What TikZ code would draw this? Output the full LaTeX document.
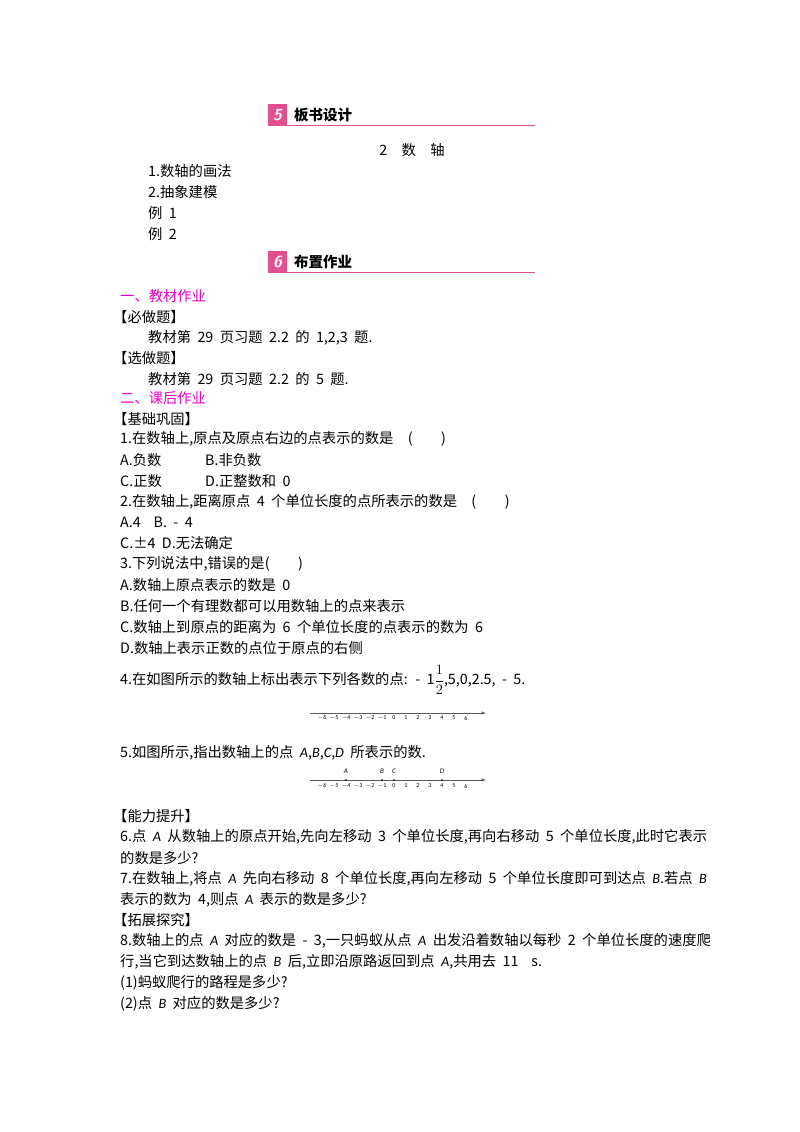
\documentclass[tikz,border=0pt]{standalone}
\usepackage{amsmath}
\usepackage{fontspec}
\setmainfont{Carlito}
\newfontfamily\cjk[WordSpace=2]{Noto Sans CJK SC}
\newcommand\ia[1]{{\normalfont\itshape #1}}
\definecolor{hpink}{RGB}{225,80,140}
\definecolor{mag}{RGB}{230,0,200}
\begin{document}
\begin{tikzpicture}[x=1pt,y=-1pt,
  t/.style={anchor=west,inner sep=0pt,font=\cjk\fontsize{14.3}{15}\selectfont},
  tiny/.style={inner sep=0pt,font=\fontsize{6}{6}\selectfont},
  hd/.style={anchor=west,inner sep=0pt,font=\cjk\bfseries\fontsize{14.5}{16}\selectfont}]
\useasboundingbox (0,0) rectangle (800,1132);
% header 5
\fill[hpink] (268,104) rectangle (287,126);
\node[inner sep=0pt,text=white,font=\sffamily\bfseries\itshape\fontsize{16}{16}\selectfont] (n5) at (277.5,115) {5};
\draw[hpink,line width=1pt] (268,125.5) -- (535,125.5);
\node[hd] (h5) at (294,115) {板书设计};
\node[t,anchor=center] (title) at (412,150) {2\quad 数\quad 轴};
\node[t] (l1) at (148,171) {1.数轴的画法};
\node[t] (l2) at (148,192) {2.抽象建模};
\node[t] (l3) at (148,213) {例 1};
\node[t] (l4) at (148,234) {例 2};
% header 6
\fill[hpink] (268,251) rectangle (287,273);
\node[inner sep=0pt,text=white,font=\sffamily\bfseries\itshape\fontsize{16}{16}\selectfont] (n6) at (277.5,262) {6};
\draw[hpink,line width=1pt] (268,272) -- (535,272);
\node[hd] (h6) at (294,262) {布置作业};
\node[t,text=mag] (s1) at (120,296) {一、教材作业};
\node[t] (a1) at (113,317) {【必做题】};
\node[t] (a2) at (148,338) {教材第 29 页习题 2.2 的 1,2,3 题.};
\node[t] (a3) at (113,358) {【选做题】};
\node[t] (a4) at (148,379) {教材第 29 页习题 2.2 的 5 题.};
\node[t,text=mag] (s2) at (120,398) {二、课后作业};
\node[t] (b0) at (113,419) {【基础巩固】};
\node[t] (q1) at (120,439) {1.在数轴上,原点及原点右边的点表示的数是\quad (\qquad )};
\node[t] (q1a) at (120,460) {A.负数};
\node[t] (q1b) at (205,460) {B.非负数};
\node[t] (q1c) at (120,481) {C.正数};
\node[t] (q1d) at (205,481) {D.正整数和 0};
\node[t] (q2) at (120,502) {2.在数轴上,距离原点 4 个单位长度的点所表示的数是\quad (\qquad )};
\node[t] (q2a) at (120,522) {A.4\ \ B. - 4};
\node[t] (q2c) at (120,543) {C.±4 D.无法确定};
\node[t] (q3) at (120,564) {3.下列说法中,错误的是(\qquad )};
\node[t] (q3a) at (120,585) {A.数轴上原点表示的数是 0};
\node[t] (q3b) at (120,606) {B.任何一个有理数都可以用数轴上的点来表示};
\node[t] (q3c) at (120,627) {C.数轴上到原点的距离为 6 个单位长度的点表示的数为 6};
\node[t] (q3d) at (120,648) {D.数轴上表示正数的点位于原点的右侧};
\node[t] (q4) at (120,680) {4.在如图所示的数轴上标出表示下列各数的点: - 1{\Large$\dfrac{1}{2}$},5,0,2.5,\ - 5.};
% number line 1
\draw[->,>=latex,gray!70!black,line width=0.5pt] (310,713) -- (486,713);
\foreach \i in {-6,...,6}{\node[tiny] at ({394+12*\i},718) {\ifnum\i<0 $-$\number\numexpr-\i\relax\else\i\fi};}
\node[t] (q5) at (120,753) {5.如图所示,指出数轴上的点 \ia{A},\ia{B},\ia{C},\ia{D} 所表示的数.};
% number line 2
\draw[->,>=latex,gray!70!black,line width=0.5pt] (310,780) -- (486,780);
\foreach \i in {-6,...,6}{\node[tiny] at ({394+12*\i},786) {\ifnum\i<0 $-$\number\numexpr-\i\relax\else\i\fi};}
\foreach \p/\l in {-4/A,-1/B,0/C,4/D}{\fill ({394+12*\p},780) circle (1pt); \node[tiny,font=\itshape\fontsize{7}{7}\selectfont] at ({394+12*\p},771) {\l};}
\node[t] (c0) at (113,816) {【能力提升】};
\node[t] (q6) at (120,837) {6.点 \ia{A} 从数轴上的原点开始,先向左移动 3 个单位长度,再向右移动 5 个单位长度,此时它表示};
\node[t] (q6b) at (120,858) {的数是多少?};
\node[t] (q7) at (120,879) {7.在数轴上,将点 \ia{A} 先向右移动 8 个单位长度,再向左移动 5 个单位长度即可到达点 \ia{B}.若点 \ia{B}};
\node[t] (q7b) at (120,900) {表示的数为 4,则点 \ia{A} 表示的数是多少?};
\node[t] (d0) at (113,920) {【拓展探究】};
\node[t] (q8) at (120,941) {8.数轴上的点 \ia{A} 对应的数是\ - 3,一只蚂蚁从点 \ia{A} 出发沿着数轴以每秒 2 个单位长度的速度爬};
\node[t] (q8b) at (120,962) {行,当它到达数轴上的点 \ia{B} 后,立即沿原路返回到点 \ia{A},共用去 11\ \ s.};
\node[t] (q8c) at (120,983) {(1)蚂蚁爬行的路程是多少?};
\node[t] (q8d) at (120,1004) {(2)点 \ia{B} 对应的数是多少?};
\end{tikzpicture}
\end{document}
